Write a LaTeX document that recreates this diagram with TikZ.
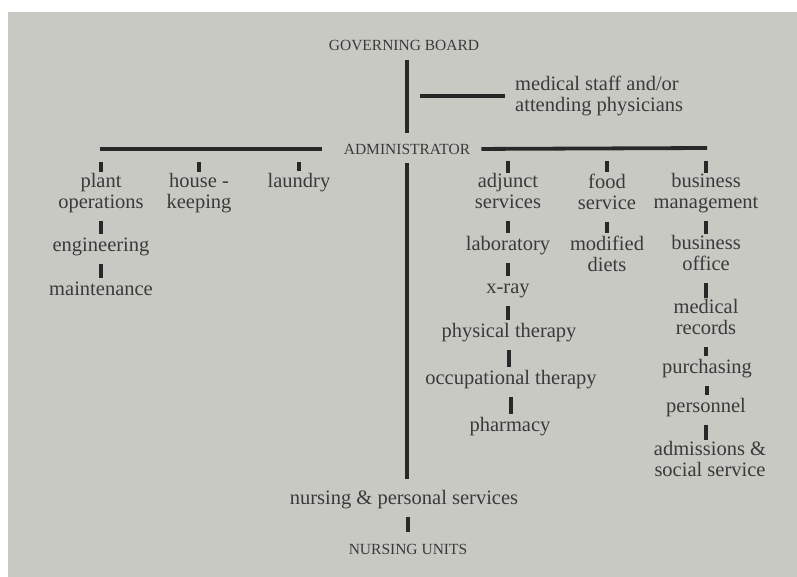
\documentclass[tikz,border=0pt]{standalone}
\usepackage{fontspec}
\setmainfont{Liberation Serif}
\usepackage{xcolor}
\definecolor{paper}{RGB}{201,201,196}
\definecolor{ink}{RGB}{58,58,58}
\definecolor{rule}{RGB}{40,40,40}

\begin{document}
\begin{tikzpicture}[x=1pt, y=-1pt,
    unit/.style={font=\fontsize{20.5}{21}\selectfont, text=ink, inner sep=0pt, align=center,
        execute at begin node=\strut, execute at end node=\strut},
    head/.style={font=\fontsize{15.5}{18}\selectfont, text=ink, inner sep=0pt,
        text height=10.5pt, text depth=0pt},
    bar/.style={draw=rule, line width=3.8pt},
    tick/.style={draw=rule, line width=3.6pt, shorten <=6pt, shorten >=2pt},
    drop/.style={draw=rule, line width=3.6pt, shorten <=13pt, shorten >=1pt}]
    % page
    \useasboundingbox (0,0) rectangle (797,577);
    \fill[paper] (8,12) rectangle (797,577);

    % board and administrator
    \node[head] (board) at (404,45) {GOVERNING BOARD};
    \node[head] (admin) at (407,149) {ADMINISTRATOR};
    \node[unit, anchor=west, align=left] (staff) at (515,97) {medical staff and/or\\attending physicians};
    \coordinate (sj) at (420,96);
    \coordinate (lbar) at (100,149);
    \coordinate (rbar) at (707,148);

    \draw[bar, shorten <=10pt, shorten >=11pt] (admin.north |- board.south) -- (admin.north);
    \draw[bar, shorten >=10pt] (sj) -- (sj -| staff.west);
    \draw[bar, shorten <=22pt] (admin.west) -- (lbar);
    \draw[bar, shorten <=11pt] (admin.east) -- (rbar);

    % left branch
    \node[unit] (plant) at (101,194) {plant\\operations};
    \node[unit] (house) at (199,194) {house -\\keeping};
    \node[unit] (laundry) at (299,183) {laundry};
    \node[unit] (eng) at (101,247) {engineering};
    \node[unit] (maint) at (101,291) {maintenance};

    \draw[drop] (plant.north |- lbar) -- (plant.north);
    \draw[drop] (house.north |- lbar) -- (house.north);
    \draw[drop] (laundry.north |- lbar) -- (laundry.north);
    \draw[tick] (plant.south) -- (plant.south |- eng.north);
    \draw[tick] (eng.south) -- (eng.south |- maint.north);

    % right branch
    \node[unit] (adj) at (508,194.5) {adjunct\\services};
    \node[unit] (lab) at (508,246) {laboratory};
    \node[unit] (xray) at (508,289) {x-ray};
    \node[unit] (phys) at (509,333) {physical therapy};
    \node[unit] (occ) at (511,380) {occupational therapy};
    \node[unit] (pharm) at (510,427) {pharmacy};

    \node[unit] (food) at (607,194.5) {food\\service};
    \node[unit] (diets) at (607,256.5) {modified\\diets};

    \node[unit] (busm) at (706,194.5) {business\\management};
    \node[unit] (buso) at (706,256.5) {business\\office};
    \node[unit] (rec) at (706,320.5) {medical\\records};
    \node[unit] (purch) at (707,369) {purchasing};
    \node[unit] (pers) at (706,408) {personnel};
    \node[unit] (adm) at (710,462.5) {admissions \&\\social service};

    \draw[drop] (adj.north |- rbar) -- (adj.north);
    \draw[drop] (food.north |- rbar) -- (food.north);
    \draw[drop] (busm.north |- rbar) -- (busm.north);
    \draw[tick] (adj.south) -- (adj.south |- lab.north);
    \draw[tick] (lab.south) -- (lab.south |- xray.north);
    \draw[tick] (xray.south) -- (xray.south |- phys.north);
    \draw[tick] (phys.south) -- (phys.south |- occ.north);
    \draw[tick] (occ.south) -- (occ.south |- pharm.north);
    \draw[tick] (food.south) -- (food.south |- diets.north);
    \draw[tick] (busm.south) -- (busm.south |- buso.north);
    \draw[tick] (buso.south) -- (buso.south |- rec.north);
    \draw[tick] (rec.south) -- (rec.south |- purch.north);
    \draw[tick] (purch.south) -- (purch.south |- pers.north);
    \draw[tick] (pers.south) -- (pers.south |- adm.north);

    % nursing
    \node[unit] (nursing) at (404,500) {nursing \& personal services};
    \node[head] (units) at (408,549) {NURSING UNITS};

    \draw[bar, shorten <=9pt, shorten >=10pt] (admin.south) -- (admin.south |- nursing.north);
    \draw[tick, shorten >=12pt] (nursing.south -| units.north) -- (units.north);
\end{tikzpicture}
\end{document}
